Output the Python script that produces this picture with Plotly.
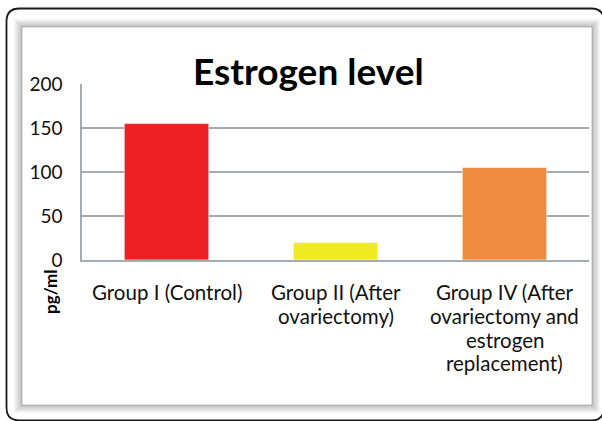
import plotly.graph_objects as go

categories = ["Group I (Control)", "Group II (After ovariectomy)",
              "Group IV (After ovariectomy and estrogen replacement)"]
category_lines = [["Group I (Control)"],
                  ["Group II (After", "ovariectomy)"],
                  ["Group IV (After", "ovariectomy and", "estrogen", "replacement)"]]
values = [155, 20, 105]
colors = ["#EE2024", "#F0EA22", "#EF8B3E"]
y_ticks = [0, 50, 100, 150, 200]
title_text = "Estrogen level"
y_label = "pg/ml"

W, H = 602, 421
L, R, T, B = 82, 589, 84, 260  # plot area in pixels

def px(x):
    return (x - L) / (R - L)

def py(y):
    return (B - y) / (B - T)

fig = go.Figure(go.Bar(
    x=categories, y=values, marker_color=colors, width=0.5,
    marker_line=dict(color="rgba(255,255,255,0.6)", width=1),
))

shapes = []
for i in range(8, 0, -1):
    shapes.append(dict(type="rect", xref="paper", yref="paper", layer="below",
                       x0=px(22 - i), x1=px(592 + i), y0=py(405 + i), y1=py(27 - i),
                       fillcolor="rgba(0,0,0,0.03)", line=dict(width=0)))
shapes.append(dict(type="rect", xref="paper", yref="paper", layer="below",
                   x0=px(22), x1=px(592), y0=py(405), y1=py(27),
                   fillcolor="white", line=dict(color="rgba(120,120,120,0.45)", width=1)))

def rounded_path(x0, y0, x1, y1, r):
    pts = [
        f"M {px(x0 + r)},{py(y0)}",
        f"L {px(x1 - r)},{py(y0)}",
        f"Q {px(x1)},{py(y0)} {px(x1)},{py(y0 + r)}",
        f"L {px(x1)},{py(y1 - r)}",
        f"Q {px(x1)},{py(y1)} {px(x1 - r)},{py(y1)}",
        f"L {px(x0 + r)},{py(y1)}",
        f"Q {px(x0)},{py(y1)} {px(x0)},{py(y1 - r)}",
        f"L {px(x0)},{py(y0 + r)}",
        f"Q {px(x0)},{py(y0)} {px(x0 + r)},{py(y0)}",
        "Z",
    ]
    return " ".join(pts)

shapes.append(dict(type="path", xref="paper", yref="paper", layer="above",
                   path=rounded_path(6.5, 8.5, 604, 420.5, 13),
                   line=dict(color="#1a1a1a", width=1.8)))

fig.update_layout(
    width=W, height=H,
    margin=dict(l=L, r=W - R, t=T, b=H - B),
    paper_bgcolor="white",
    plot_bgcolor="rgba(0,0,0,0)",
    showlegend=False,
    shapes=shapes,
    font=dict(family="Lato", color="#111111"),
)

fig.update_yaxes(
    range=[0, 200], tickvals=y_ticks, ticktext=[str(v) for v in y_ticks],
    showgrid=True, gridcolor="#A3ABB3", gridwidth=1.5,
    showline=True, linecolor="#A3ABB3", linewidth=1.5,
    zeroline=False, ticks="", tickfont=dict(size=19, family="Lato", color="#111"),
    ticklabelstandoff=14,
)
fig.update_xaxes(
    showgrid=False, showline=True, linecolor="#A3ABB3", linewidth=1.5,
    ticks="", showticklabels=False,
)

line_y = [292, 315.5, 339.5, 363]
for cat, lines in zip(categories, category_lines):
    for j, ln in enumerate(lines):
        fig.add_annotation(text=ln, xref="x", yref="paper", x=cat, y=py(line_y[j]),
                           xanchor="center", yanchor="middle", showarrow=False,
                           font=dict(size=20.5, family="Lato", color="#111"))

fig.add_annotation(text=f"<b>{title_text}</b>", xref="paper", yref="paper",
                   x=px(308), y=py(70), xanchor="center", yanchor="middle",
                   showarrow=False, font=dict(size=37, family="Lato", color="#000"))
fig.add_annotation(text=f"<b>{y_label}</b>", xref="paper", yref="paper",
                   x=px(50), y=py(292), xanchor="center", yanchor="middle",
                   textangle=-90, showarrow=False,
                   font=dict(size=17, family="Lato", color="#000"))

fig.write_html("out.html", post_script="document.body.style.margin='0';",
               config={"displayModeBar": False})
